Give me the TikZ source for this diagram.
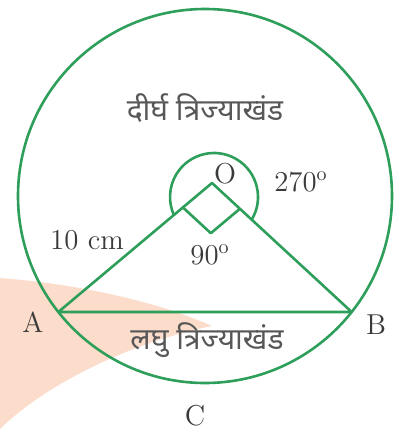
\documentclass[tikz,border=0pt]{standalone}
\usepackage{fontspec}
\newfontfamily\devfont[Script=Devanagari]{Noto Sans}
\usepackage{tikz}
\usetikzlibrary{calc}
\definecolor{arcgreen}{HTML}{2E9E5B}
\definecolor{markpeach}{HTML}{FCDCCB}
\definecolor{labelgray}{HTML}{3A3A3A}

\begin{document}
\begin{tikzpicture}[x=0.5pt,y=0.5pt,
    every node/.style={text=labelgray,inner sep=0pt,
      font=\fontsize{14.4}{16}\selectfont},
    dev/.style={text=labelgray!85,font=\devfont\fontsize{15}{17}\selectfont},
    edge/.style={arcgreen,line width=1.3pt,line join=round}]
  \useasboundingbox (0,0) rectangle (398,-429);

  % Background mark
  \fill[markpeach] (0,-278) .. controls (90,-285) and (165,-305) .. (212,-326)
    .. controls (140,-340) and (50,-380) .. (0,-429) -- cycle;

  % Circle, chord and radii
  \coordinate (ctr) at (205,-196);
  \draw[edge] (ctr) circle[radius=187];
  \coordinate (O) at (212,-183);
  \coordinate (A) at (58.3,-312);
  \coordinate (B) at (351.7,-312);
  \draw[edge] (A) -- (O) -- (B) -- cycle;

  % Right angle at O
  \coordinate (pa) at ($(O)!19pt!(A)$);
  \coordinate (pb) at ($(O)!19pt!(B)$);
  \draw[edge] (pa) -- ($(pa)+(pb)-(O)$) -- (pb);

  % Reflex angle at O
  \coordinate (arcC) at (214,-197);
  \draw[edge] ([shift={(-31:44)}]arcC) arc[start angle=-31,end angle=205,radius=44];

  % Labels
  \node (lbmajor) [dev] at (205,-108) {दीर्घ त्रिज्याखंड};
  \node (lbminor) [dev] at (207,-340) {लघु त्रिज्याखंड};
  \node (lbO) at (225,-174) {O};
  \node (lbreflex) at (301,-182) {270$^{\mathrm{o}}$};
  \node (lbright) at (210,-255) {90$^{\mathrm{o}}$};
  \node (lbradius) at (87,-240) {10 cm};
  \node (lbA) at (33,-322) {A};
  \node (lbB) at (376,-325) {B};
  \node (lbC) at (195,-416) {C};
\end{tikzpicture}
\end{document}
